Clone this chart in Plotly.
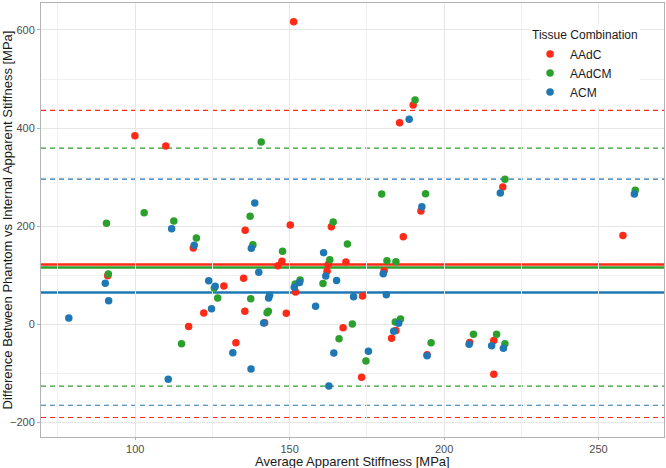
import plotly.graph_objects as go

groups = ["AAdC", "AAdCM", "ACM"]
colors = {"AAdC": "#FF2A17", "AAdCM": "#2CA02C", "ACM": "#1F77B4"}

aadc_x = [99.9, 109.9, 151.3, 135.6, 150.2, 163.5, 190.0, 185.6, 192.5, 219.0, 257.9, 91.1,
          117.3, 122.2, 128.7, 118.8, 135.1, 135.5, 132.6, 141.9, 148.9, 147.5, 146.2, 151.9,
          162.5, 162.1, 168.2, 173.6, 167.3, 173.3, 180.6, 184.4, 183.0, 186.8, 194.5, 208.3,
          216.1, 216.1]
aadc_y = [384.5, 363.5, 617, 191.6, 202.4, 199, 447, 411, 231, 280, 181, 99,
          -4.2, 23, 78, 155.6, 94, 26.5, -37.5, 3.3, 22.4, 128.4, 119.5, 66,
          122, 108, 127, 57.7, -6.9, -108, 109.3, -12.5, -28.5, 178.6, -62, -37,
          -32.8, -102]

aadcm_x = [90.7, 102.9, 112.5, 140.8, 137.2, 164.1, 190.6, 179.8, 194.0, 219.7, 261.9, 91.3,
           115.0, 126.7, 125.6, 119.8, 137.4, 138.1, 142.7, 143.1, 147.7, 151.8, 153.4, 163.0,
           160.8, 168.7, 170.3, 166.0, 174.7, 181.5, 184.4, 185.9, 184.2, 195.8, 209.5, 217.0,
           219.7]
aadcm_y = [205.9, 227.5, 210.6, 371.7, 220.2, 208.6, 457.3, 265.6, 266.3, 295.6, 273.2, 102.5,
           -39.5, 53.6, 74, 176, 52, 162.3, 23.7, 26.5, 148.8, 82.2, 90.5, 131.5,
           83.2, 163.5, 0.6, -29.4, -74.8, 129.7, 127.6, 10.8, 4.7, -37.5, -20, -20,
           -39.5]

acm_x = [111.8, 138.7, 188.7, 192.8, 218.2, 261.6, 78.5, 90.3, 91.4, 110.7, 124.7, 125.9,
         123.8, 119.1, 131.6, 137.5, 137.6, 140.0, 143.2, 143.5, 141.6, 151.5, 153.2, 158.4,
         161.0, 161.7, 165.2, 170.7, 164.3, 162.7, 175.5, 180.3, 181.3, 185.3, 183.7, 194.5,
         208.1, 215.4, 219.2]
acm_y = [194.9, 247.3, 417.9, 239.8, 267.7, 265.6, 12.8, 83.6, 48.1, -112, 31.8, 77.5,
         89, 161, -57.9, -91, 155, 106, 53.6, 59.5, 2.7, 75.4, 85, 36.7,
         146, 98.7, 89.3, 56.3, -58.5, -125.8, -55, 103.2, 60.3, 2.4, -14, -64,
         -40.5, -43.6, -48.9]

mean_diff = [122, 116, 65]
upper_loa = [436, 359, 296]
lower_loa = [-190, -126, -165]

x_ticks = [100, 150, 200, 250]
y_ticks = [-200, 0, 200, 400, 600]

x_title = "Average Apparent Stiffness [MPa]"
y_title = "Difference Between Phantom vs Internal Apparent Stiffness [MPa]"

data = {"AAdC": (aadc_x, aadc_y), "AAdCM": (aadcm_x, aadcm_y), "ACM": (acm_x, acm_y)}

fig = go.Figure()
for g in groups:
    xs, ys = data[g]
    fig.add_trace(go.Scatter(x=xs, y=ys, mode="markers", name=g,
                             marker=dict(color=colors[g], size=7.5, line=dict(width=0))))

shapes = []
for g, m, u, l in zip(groups, mean_diff, upper_loa, lower_loa):
    c = colors[g]
    shapes.append(dict(type="line", xref="paper", x0=0, x1=1, yref="y", y0=m, y1=m,
                       line=dict(color=c, width=2.5), layer="below"))
    for v in (u, l):
        shapes.append(dict(type="line", xref="paper", x0=0, x1=1, yref="y", y0=v, y1=v,
                           line=dict(color=c, width=1.2, dash="5px,4px"), layer="below"))

grid = "#E6E6E6"
fig.update_layout(
    width=666, height=468,
    margin=dict(l=41, r=2, t=3, b=31, autoexpand=False),
    paper_bgcolor="white", plot_bgcolor="white",
    font=dict(family="Liberation Sans, Arial, sans-serif", color="#1A1A1A", size=13),
    shapes=shapes,
    annotations=[dict(text=x_title, xref="paper", yref="paper", x=0.5, y=0,
                      xanchor="center", yanchor="middle", yshift=-24, showarrow=False,
                      font=dict(size=13, color="#1A1A1A"))],
    legend=dict(title=dict(text="Tissue Combination", font=dict(size=12)),
                x=0.785, y=0.952, xanchor="left", yanchor="top",
                bgcolor="white", font=dict(size=12), itemsizing="trace",
                tracegroupgap=0),
    xaxis=dict(range=[69.5, 271.2], tickvals=x_ticks, showgrid=True, gridcolor=grid, gridwidth=1,
               minor=dict(dtick=25, tick0=0, showgrid=True, gridcolor="#F0F0F0", gridwidth=0.6),
               zeroline=False, showline=True, linecolor="#B3B3B3", linewidth=1, mirror=True,
               ticks="outside", ticklen=2, tickcolor="#B3B3B3", automargin=False,
               tickfont=dict(size=11, color="#4D4D4D")),
    yaxis=dict(range=[-229.7, 655], tickvals=y_ticks, showgrid=True, gridcolor=grid, gridwidth=1,
               minor=dict(dtick=100, tick0=0, showgrid=True, gridcolor="#F0F0F0", gridwidth=0.6),
               zeroline=False, showline=True, linecolor="#B3B3B3", linewidth=1, mirror=True,
               ticks="outside", ticklen=3, tickcolor="#B3B3B3", automargin=False,
               tickfont=dict(size=11, color="#4D4D4D"),
               title=dict(text=y_title, font=dict(size=13), standoff=2)),
)

fig.write_html("out.html")
